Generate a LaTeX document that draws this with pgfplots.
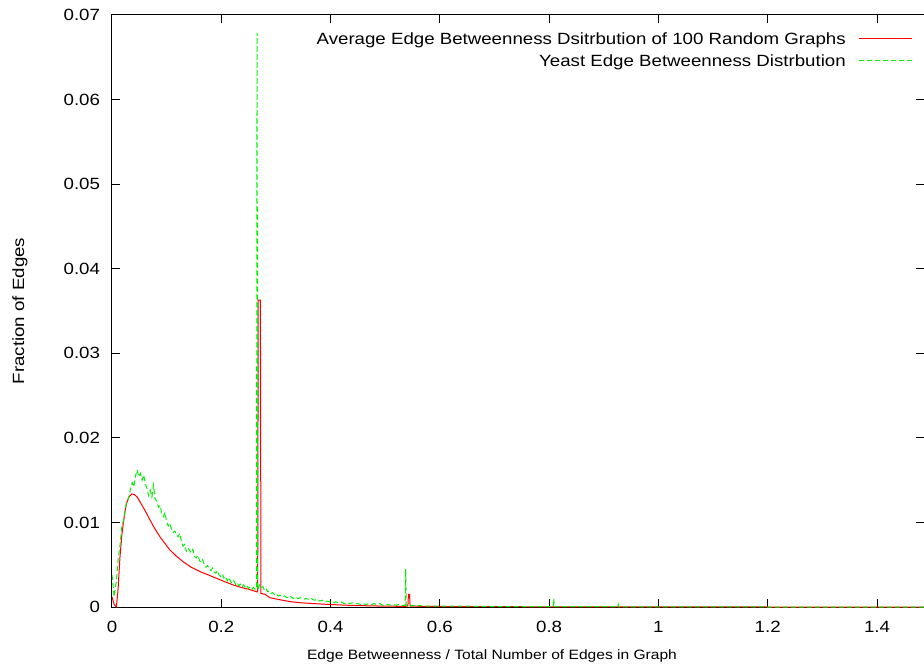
\documentclass[border=0pt]{standalone}
\usepackage{pgfplots}
\pgfplotsset{compat=1.18}
\usepackage{fontspec}
\setmainfont[FakeStretch=1.15]{Liberation Sans}
\definecolor{gpred}{RGB}{255,0,0}
\definecolor{gpgreen}{RGB}{0,240,0}
\begin{document}
\begin{tikzpicture}[font=\fontsize{16.3}{19}\selectfont]
\useasboundingbox (-112bp,-60bp) rectangle (812bp,607bp);
\begin{axis}[
  scale only axis,
  width=812bp, height=592bp,
  xmin=0, xmax=1.486,
  ymin=0, ymax=0.07,
  scaled x ticks=false, scaled y ticks=false,
  axis line style={line width=1bp, black},
  tick style={line width=1bp, black},
  major tick length=8bp,
  tick align=inside,
  xtick={0,0.2,0.4,0.6,0.8,1,1.2,1.4},
  xticklabels={0,0.2,0.4,0.6,0.8,1,1.2,1.4},
  ytick={0,0.01,0.02,0.03,0.04,0.05,0.06,0.07},
  yticklabels={0,0.01,0.02,0.03,0.04,0.05,0.06,0.07},
  minor tick num=0,
  xticklabel style={yshift=-10.5bp},
  yticklabel style={xshift=-8.5bp},
  xlabel={Edge Betweenness / Total Number of Edges in Graph},
  ylabel={Fraction of Edges},
  xlabel style={at={(axis description cs:0.468,-0.0828)}, anchor=center, font=\fontsize{13.6}{16}\selectfont},
  ylabel style={at={(axis description cs:-0.1133,0.5)}, anchor=center},
  clip=true,
]
\addplot[color=gpred, line width=1bp] coordinates {
(0,0.0012) (0.004,0.0003) (0.008,0.0) (0.011,0.002) (0.0146,0.0059) (0.018,0.0085)
(0.0207,0.0099) (0.024,0.0114) (0.0268,0.0123) (0.031,0.0130) (0.036,0.01336) (0.041,0.0133)
(0.046,0.0130) (0.0512,0.01245) (0.057,0.0118) (0.063,0.0111) (0.0695,0.0103) (0.078,0.0093)
(0.0878,0.0083) (0.097,0.0075) (0.106,0.00674) (0.118,0.0060) (0.130,0.00536) (0.145,0.0047)
(0.161,0.00418) (0.176,0.0038) (0.191,0.0034) (0.206,0.0030) (0.222,0.0026) (0.237,0.0023)
(0.250,0.0021) (0.2646,0.0018) (0.2666,0.0018) (0.2676,0.0363) (0.2716,0.0363) (0.2726,0.0016)
(0.280,0.0015) (0.289,0.0011) (0.300,0.00095) (0.316,0.00075) (0.330,0.0006) (0.346,0.0005)
(0.370,0.0004) (0.397,0.0003) (0.437,0.00019) (0.470,0.00014) (0.500,0.0001) (0.535,0.00008)
(0.5415,0.0001) (0.5425,0.0015) (0.5445,0.0015) (0.5455,0.0001) (0.600,0.00006) (0.700,0.00004)
(0.800,0.00002) (0.900,0.00001) (1.000,0.00001) (1.200,0.0) (1.486,0.0)
};
\addplot[color=gpgreen, line width=1bp, dash pattern=on 5bp off 3bp] coordinates {
(0.000,0.0038) (0.004,0.0012) (0.008,0.0030) (0.011,0.0055) (0.015,0.0075) (0.018,0.0095)
(0.022,0.0105) (0.026,0.0122) (0.030,0.0128) (0.034,0.0140) (0.037,0.0147) (0.040,0.0142)
(0.043,0.0155) (0.046,0.0162) (0.049,0.0154) (0.052,0.0158) (0.055,0.0150) (0.058,0.0156)
(0.061,0.0146) (0.064,0.0140) (0.067,0.0132) (0.070,0.0138) (0.073,0.0130) (0.076,0.0144)
(0.079,0.0128) (0.082,0.0125) (0.085,0.0118) (0.088,0.0120) (0.091,0.0110) (0.094,0.0107)
(0.097,0.0112) (0.100,0.0100) (0.103,0.0096) (0.106,0.0099) (0.109,0.0091) (0.112,0.0088)
(0.115,0.0090) (0.118,0.0085) (0.121,0.0083) (0.124,0.0087) (0.127,0.0078) (0.130,0.0072)
(0.133,0.0074) (0.136,0.0066) (0.139,0.0070) (0.142,0.0067) (0.145,0.0064) (0.148,0.0068)
(0.151,0.0060) (0.154,0.0058) (0.157,0.0061) (0.160,0.0055) (0.163,0.0053) (0.166,0.0056)
(0.169,0.0050) (0.172,0.0047) (0.175,0.0049) (0.178,0.0045) (0.181,0.0043) (0.184,0.0046)
(0.187,0.0041) (0.190,0.0040) (0.193,0.0043) (0.196,0.0038) (0.199,0.0036) (0.202,0.0039)
(0.205,0.0034) (0.208,0.0036) (0.211,0.0031) (0.214,0.0035) (0.217,0.0030) (0.220,0.0028)
(0.223,0.0031) (0.226,0.0027) (0.229,0.0029) (0.232,0.0025) (0.235,0.0027) (0.238,0.0024)
(0.241,0.0026) (0.244,0.0023) (0.247,0.0025) (0.250,0.0022) (0.253,0.0024) (0.256,0.0021)
(0.259,0.0023) (0.262,0.0021) (0.2645,0.0022) (0.2655,0.0679) (0.2665,0.0020) (0.270,0.0026)
(0.273,0.0023) (0.276,0.0024) (0.279,0.0020) (0.282,0.0022) (0.285,0.0018) (0.288,0.0019)
(0.291,0.0016) (0.294,0.0017) (0.297,0.0015) (0.300,0.0016) (0.304,0.0013) (0.308,0.0014)
(0.312,0.0012) (0.316,0.0013) (0.320,0.0011) (0.324,0.0013) (0.328,0.0012) (0.332,0.0010)
(0.336,0.0012) (0.340,0.0010) (0.345,0.0011) (0.350,0.0009) (0.355,0.0010) (0.360,0.0009)
(0.365,0.0010) (0.370,0.0008) (0.375,0.0009) (0.380,0.0007) (0.385,0.0008) (0.390,0.0006)
(0.395,0.0007) (0.400,0.0006) (0.405,0.0005) (0.410,0.0006) (0.415,0.0005) (0.420,0.0006)
(0.425,0.0004) (0.430,0.0005) (0.435,0.0004) (0.440,0.0005) (0.445,0.0004) (0.450,0.0004)
(0.455,0.0003) (0.460,0.0004) (0.465,0.0003) (0.470,0.0004) (0.475,0.0003) (0.480,0.0004)
(0.485,0.0003) (0.490,0.0004) (0.495,0.0002) (0.500,0.0003) (0.505,0.0003) (0.510,0.0002)
(0.515,0.0003) (0.520,0.0002) (0.525,0.0003) (0.530,0.0002) (0.5365,0.0002) (0.5375,0.0045)
(0.5385,0.0002) (0.545,0.0001) (0.550,0.0002) (0.555,0.0001) (0.560,0.0002) (0.570,0.0001)
(0.580,0.0001) (0.600,0.0001) (0.650,0.0001) (0.700,0.00005) (0.750,0.00005) (0.800,0.00005)
(0.8075,0.00005) (0.8085,0.0010) (0.8095,0.00005) (0.850,0.00003) (0.920,0.00003) (0.9255,0.00003)
(0.9265,0.0003) (0.9275,0.00002) (1.000,0.00001) (1.200,0.0) (1.486,0.0)
};
% legend (key), drawn in axis description coordinates
\node[anchor=base east, inner sep=0pt] at (axis description cs:0.9039,0.9497)
  {Average Edge Betweenness Dsitrbution of 100 Random Graphs};
\node[anchor=base east, inner sep=0pt] at (axis description cs:0.9039,0.9125)
  {Yeast Edge Betweenness Distrbution};
\draw[gpred, line width=1bp] (axis description cs:0.9200,0.9595) -- (axis description cs:0.9852,0.9595);
\draw[gpgreen, line width=1bp, dash pattern=on 5bp off 3bp] (axis description cs:0.9200,0.9223) -- (axis description cs:0.9852,0.9223);
\end{axis}
\end{tikzpicture}
\end{document}
